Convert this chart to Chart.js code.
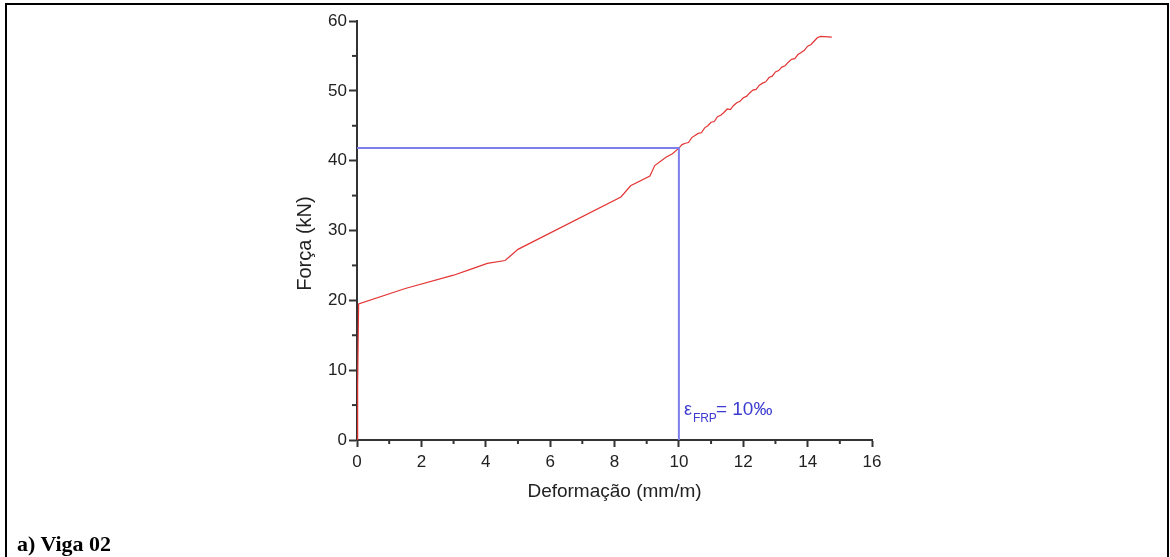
<!DOCTYPE html>
<html>
<head>
<meta charset="utf-8">
<script src="https://cdn.jsdelivr.net/npm/chart.js@4.4.1/dist/chart.umd.min.js"></script>
<style>
  html, body { margin: 0; padding: 0; background: #fff; }
  body { width: 1170px; height: 557px; position: relative; overflow: hidden; }
  #frame {
    position: absolute; left: 5px; top: 3px; width: 1160px; height: 560px;
    border-left: 2px solid #000; border-top: 2px solid #000; border-right: 2px solid #000;
  }
  #wrap { position: absolute; left: 0; top: 0; width: 1170px; height: 557px; }
  #caption {
    position: absolute; left: 17px; top: 531px;
    font-family: "Liberation Serif", "Times New Roman", serif;
    font-weight: bold; font-size: 22px; color: #000;
  }
</style>
</head>
<body>
<div id="frame"></div>
<div id="wrap"><canvas id="forceChart"></canvas></div>
<div id="caption">a) Viga 02</div>

<script>
// strain (mm/m) and force (kN)
const strain = [0, 0.02, 0.05, 1.5, 3.0, 3.5, 4.05, 4.6, 4.8, 5.0, 8.2, 8.5, 9.1, 9.25, 9.6, 9.8,
  10.0, 10.1, 10.2, 10.3, 10.4, 10.5, 10.6, 10.7, 10.8, 10.9, 11.0, 11.1, 11.2, 11.3, 11.4,
  11.5, 11.6, 11.7, 11.8, 11.9, 12.0, 12.1, 12.2, 12.3, 12.4, 12.5, 12.6, 12.7, 12.8, 12.9,
  13.0, 13.1, 13.2, 13.3, 13.4, 13.5, 13.6, 13.7, 13.8, 13.9, 14.0, 14.1, 14.2, 14.3, 14.4, 14.75];
const force = [0, 8, 19.5, 21.7, 23.6, 24.4, 25.3, 25.7, 26.5, 27.3, 34.8, 36.4, 37.8, 39.3, 40.5, 41.0,
  41.8, 42.3, 42.5, 42.6, 43.3, 43.6, 43.9, 44.0, 44.7, 45.0, 45.5, 45.6, 46.3, 46.5, 46.9,
  47.4, 47.3, 47.9, 48.3, 48.5, 49.0, 49.2, 49.7, 50.1, 50.2, 50.8, 51.1, 51.3, 51.9, 52.1,
  52.7, 52.9, 53.4, 53.6, 54.1, 54.5, 54.6, 55.2, 55.5, 55.8, 56.4, 56.6, 57.1, 57.6, 57.8, 57.7];

// reference lines at epsilon FRP = 10 per mille
const refStrain = [0, 10, 10];
const refForce = [41.8, 41.8, 0];

const xMinorTicks = [1, 3, 5, 7, 9, 11, 13, 15];
const yMinorTicks = [5, 15, 25, 35, 45, 55];

const curve = strain.map((s, i) => ({ x: s, y: force[i] }));
const refLine = refStrain.map((s, i) => ({ x: s, y: refForce[i] }));

const axisColor = '#333';
const sans = '"Liberation Sans", Arial, sans-serif';
const tickFont = { family: sans, size: 17 };
const titleFont = { family: sans, size: 19 };

const extras = {
  id: 'extras',
  afterDraw(chart) {
    const ctx = chart.ctx;
    const xs = chart.scales.x, ys = chart.scales.y;
    ctx.save();
    ctx.strokeStyle = axisColor;
    ctx.lineWidth = 2;
    // minor ticks
    xMinorTicks.forEach(v => {
      const px = xs.getPixelForValue(v);
      ctx.beginPath();
      ctx.moveTo(px, ys.bottom);
      ctx.lineTo(px, ys.bottom + 4);
      ctx.stroke();
    });
    yMinorTicks.forEach(v => {
      const py = ys.getPixelForValue(v);
      ctx.beginPath();
      ctx.moveTo(xs.left, py);
      ctx.lineTo(xs.left - 5, py);
      ctx.stroke();
    });
    // y axis title, sits a bit below the middle of the axis
    ctx.save();
    ctx.translate(ys.left + 10, (ys.top + ys.bottom) / 2 + 13);
    ctx.rotate(-Math.PI / 2);
    ctx.fillStyle = '#222';
    ctx.font = '20px ' + sans;
    ctx.textAlign = 'center';
    ctx.textBaseline = 'middle';
    ctx.fillText('Força (kN)', 0, 0);
    ctx.restore();
    // annotation text
    const ax = xs.getPixelForValue(10);
    const ay = ys.getPixelForValue(0) - 25;
    ctx.fillStyle = '#3b3bd0';
    ctx.textBaseline = 'alphabetic';
    ctx.font = '18px ' + sans;
    ctx.fillText('\u03b5', ax + 5, ay);
    ctx.font = '12px ' + sans;
    ctx.fillText('FRP', ax + 14, ay + 7);
    ctx.font = '19px ' + sans;
    ctx.fillText('= 10\u2030', ax + 37, ay);
    ctx.restore();
  }
};

new Chart(document.getElementById('forceChart'), {
  type: 'scatter',
  data: {
    datasets: [
      {
        data: refLine,
        showLine: true,
        borderColor: 'rgb(125,125,235)',
        borderWidth: 2,
        pointRadius: 0,
        tension: 0
      },
      {
        data: curve,
        showLine: true,
        borderColor: 'rgb(228,52,52)',
        borderWidth: 1.2,
        pointRadius: 0,
        tension: 0
      }
    ]
  },
  options: {
    responsive: true,
    maintainAspectRatio: false,
    animation: false,
    layout: { padding: { left: 295, right: 298, top: 21, bottom: 54 } },
    plugins: { legend: { display: false }, tooltip: { enabled: false } },
    scales: {
      x: {
        type: 'linear',
        min: 0,
        max: 16,
        afterFit: scale => { scale.height = 63; },
        border: { display: true, color: axisColor, width: 2 },
        grid: { drawOnChartArea: false, drawTicks: true, tickLength: 7, tickColor: axisColor, tickWidth: 2 },
        ticks: { stepSize: 2, color: '#222', font: tickFont, padding: 5, maxRotation: 0 },
        title: { display: true, text: 'Deformação (mm/m)', color: '#222', font: titleFont, padding: 0 }
      },
      y: {
        type: 'linear',
        min: 0,
        max: 60,
        afterFit: scale => { scale.width = 62; },
        border: { display: true, color: axisColor, width: 2 },
        grid: { drawOnChartArea: false, drawTicks: true, tickLength: 8, tickColor: axisColor, tickWidth: 2 },
        ticks: { stepSize: 10, color: '#222', font: tickFont, padding: 2 },
        title: { display: false }
      }
    }
  },
  plugins: [extras]
});
</script>
</body>
</html>
